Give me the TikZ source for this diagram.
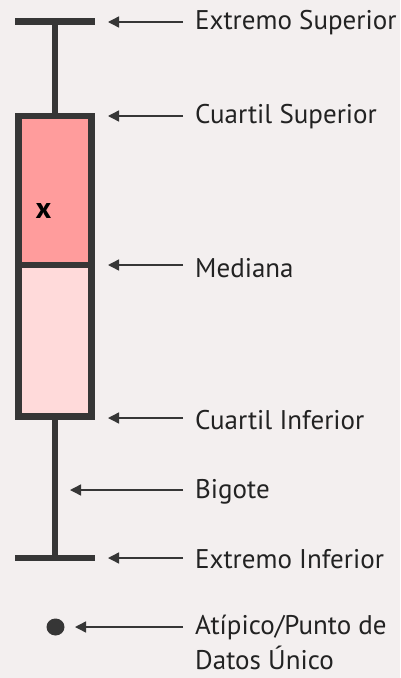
\documentclass[tikz,border=0pt]{standalone}
\usepackage{fontspec}
\setmainfont{PT Sans}
\usetikzlibrary{arrows.meta,shapes.geometric}
\definecolor{bg}{HTML}{F3EFEF}
\definecolor{ink}{HTML}{363636}
\definecolor{txt}{HTML}{222222}
\definecolor{upfill}{HTML}{FF9C9C}
\definecolor{lowfill}{HTML}{FFDADA}
\tikzset{
  boxpart/.style={draw=ink, line width=6.5pt, inner sep=0pt, outer sep=0pt, minimum width=73.3pt},
  stem/.style={draw=ink, line width=6.5pt},
  arr/.style={draw=ink, line width=1.4pt, -{Triangle[length=11pt,width=11pt]}},
  lab/.style={anchor=west, inner xsep=12pt, inner ysep=0pt, text=txt, font=\fontsize{27}{35}\selectfont, align=left},
}
\begin{document}
\begin{tikzpicture}[x=1pt,y=-1pt]
\fill[bg] (0,0) rectangle (400,678);
\useasboundingbox (0,0) rectangle (400,678);
% box
\node[boxpart, fill=upfill, minimum height=149pt] (upper) at (55,190.5) {};
\node[boxpart, fill=lowfill, minimum height=151.5pt] (lower) at (55,340.75) {};
\node[font=\bfseries\fontsize{30}{30}\selectfont, inner sep=0pt] (mean) at (43.5,211) {x};
% whiskers and caps
\coordinate (tcl) at (15,21.5);
\coordinate (tcr) at (95,21.5);
\coordinate (tcm) at (55,21.5);
\coordinate (bcl) at (15,558);
\coordinate (bcr) at (95,558);
\coordinate (bcm) at (55,558);
\draw[stem] (tcl) -- (tcr);
\draw[stem] (bcl) -- (bcr);
\draw[draw=ink, line width=6pt] (tcm) -- (upper.north);
\draw[draw=ink, line width=6pt] (lower.south) -- (bcm);
\node[ellipse, fill=ink, inner sep=0pt, minimum width=18pt, minimum height=17pt] (out) at (55.5,627) {};
% arrow tips
\coordinate (t1) at (108,22);
\coordinate (t2) at (108,116);
\coordinate (t3) at (108,265);
\coordinate (t4) at (108,418);
\coordinate (t5) at (70,490);
\coordinate (t6) at (108,558);
\coordinate (t7) at (75,627);
% labels
\node[lab] (l1) at (183,23) {Extremo Superior};
\node[lab] (l2) at (183,117) {Cuartil Superior};
\node[lab] (l3) at (183,268) {Mediana};
\node[lab] (l4) at (183,420) {Cuartil Inferior};
\node[lab] (l5) at (183,492) {Bigote};
\node[lab] (l6) at (183,559) {Extremo Inferior};
\node[lab, anchor=north west] (l7) at (183,615) {Atípico/Punto de\\Datos Único};
% arrows
\draw[arr] (l1.west |- t1) -- (t1);
\draw[arr] (l2.west |- t2) -- (t2);
\draw[arr] (l3.west |- t3) -- (t3);
\draw[arr] (l4.west |- t4) -- (t4);
\draw[arr] (l5.west |- t5) -- (t5);
\draw[arr] (l6.west |- t6) -- (t6);
\draw[arr] (l7.west |- t7) -- (t7);
\end{tikzpicture}
\end{document}
